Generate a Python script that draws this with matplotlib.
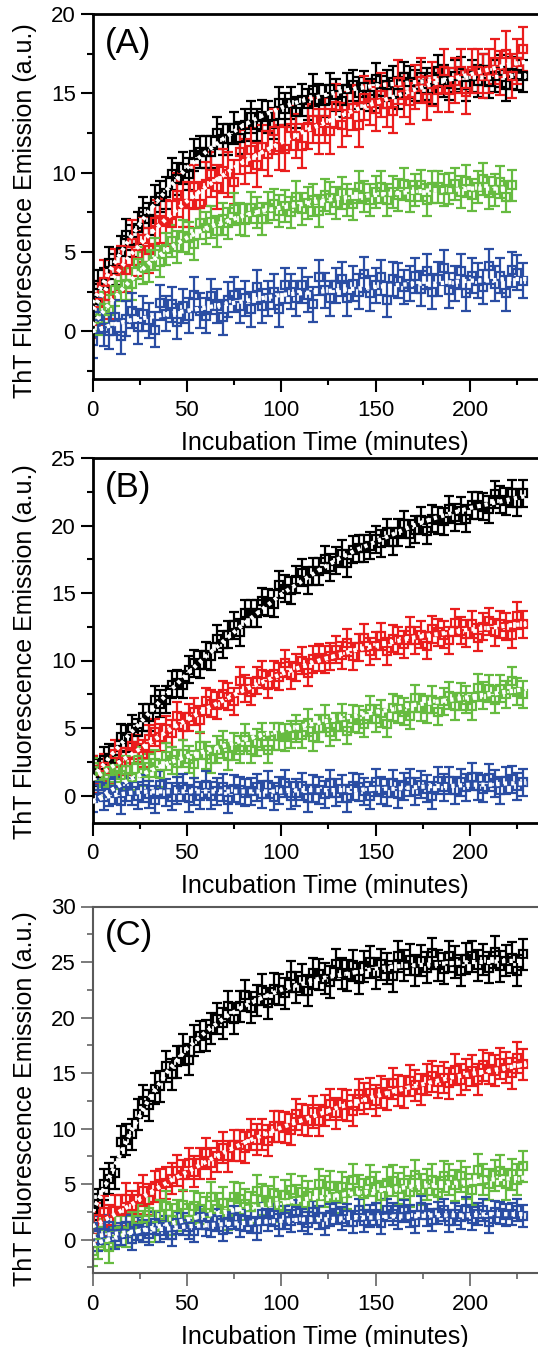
import numpy as np
import matplotlib
matplotlib.use("Agg")
import matplotlib.pyplot as plt
from matplotlib.ticker import MultipleLocator

plt.rcParams['font.family'] = ['Liberation Sans', 'DejaVu Sans']

# sampling grid of the kinetics (minutes) and of the fitted curves
time_min = np.arange(0, 231, 3)
fit_time = np.arange(0, 231, 10)

# ---------------- panel A ----------------
a_black = [2.0, 2.9, 3.0, 4.3, 3.9, 5.0, 6.1, 5.7, 6.5, 7.5, 7.1, 8.2, 8.5, 8.7, 9.9, 9.6, 10.3, 9.9, 11.1, 11.3,
           11.3, 11.3, 12.5, 12.1, 12.1, 12.8, 12.2, 13.0, 13.5, 13.0, 13.6, 13.5, 13.1, 14.4, 14.0, 14.4, 13.8, 14.6, 14.3, 15.2,
           14.6, 14.5, 15.3, 14.9, 14.5, 15.3, 15.5, 15.0, 15.4, 14.9, 15.9, 15.1, 15.5, 15.7, 15.0, 16.0, 15.7, 15.5, 16.0, 15.6,
           15.3, 16.4, 15.8, 15.6, 16.1, 16.3, 15.5, 16.1, 15.8, 16.5, 15.7, 16.1, 16.4, 15.5, 16.3, 16.2, 16.1]
a_red = [1.0, 1.8, 3.1, 2.2, 3.8, 4.0, 3.9, 5.6, 4.9, 5.8, 5.1, 6.9, 7.0, 6.9, 6.8, 8.6, 8.0, 8.0, 9.1, 8.0,
         9.3, 9.9, 9.1, 10.1, 9.9, 9.4, 11.3, 10.7, 11.4, 10.5, 11.6, 11.2, 12.6, 11.6, 11.5, 12.8, 12.3, 11.7, 12.9, 13.3,
         12.6, 13.3, 12.6, 14.2, 13.0, 13.7, 14.1, 13.0, 14.7, 14.4, 14.0, 14.9, 14.3, 13.9, 15.7, 14.9, 14.5, 15.4, 15.8, 14.7,
         15.6, 15.2, 16.4, 15.2, 15.8, 16.4, 15.1, 16.4, 16.4, 16.1, 16.4, 17.0, 16.3, 17.5, 16.1, 17.0, 17.8]
a_green = [1.0, 0.8, 1.5, 1.3, 2.6, 2.9, 3.0, 3.0, 4.3, 4.0, 4.1, 4.9, 4.4, 5.2, 5.7, 5.3, 6.0, 5.9, 5.5, 6.8,
           6.5, 6.9, 6.3, 7.1, 6.8, 7.7, 7.1, 7.0, 7.8, 7.5, 7.1, 7.8, 8.0, 7.6, 7.9, 7.5, 8.5, 7.7, 8.1, 8.3,
           7.6, 8.6, 8.4, 8.1, 8.7, 8.3, 8.0, 9.1, 8.5, 8.3, 8.8, 9.1, 8.3, 8.8, 8.6, 9.3, 8.5, 8.9, 9.2, 8.3,
           9.1, 9.1, 8.9, 9.0, 9.3, 8.8, 9.5, 8.6, 9.1, 9.6, 8.7, 8.9, 9.4, 8.5, 9.2]
a_blue = [-0.6, 1.0, 0.2, 0.0, 0.9, -0.3, 0.8, 1.3, 0.3, 1.1, 0.7, 0.1, 1.8, 1.1, 1.7, 0.6, 1.6, 1.0, 2.3, 1.3,
          1.0, 2.2, 1.6, 0.9, 2.0, 2.3, 1.6, 2.1, 1.4, 2.8, 1.6, 2.1, 2.5, 1.4, 2.9, 2.5, 2.1, 2.9, 2.3, 1.7,
          3.4, 2.6, 2.1, 2.9, 3.3, 2.1, 3.0, 2.5, 3.6, 2.4, 2.9, 3.4, 2.0, 3.3, 3.2, 2.8, 3.0, 3.5, 2.7, 3.8,
          2.5, 3.3, 4.0, 2.6, 3.0, 3.8, 2.4, 3.5, 3.2, 2.8, 4.1, 3.0, 3.5, 2.4, 3.9, 3.7, 3.2]
a_fit_black = [1.8, 4.0, 5.9, 7.6, 9.0, 10.3, 11.3, 12.2, 13.0, 13.6, 14.1, 14.5, 14.8, 15.1, 15.3, 15.5, 15.6, 15.7,
               15.8, 15.9, 16.0, 16.0, 16.1, 16.1]
a_fit_red = [1.4, 3.2, 4.8, 6.1, 7.2, 8.2, 9.1, 9.9, 10.7, 11.3, 11.9, 12.5, 13.0, 13.5, 14.0, 14.4, 14.8, 15.2,
             15.6, 15.9, 16.2, 16.5, 16.8, 17.0]
a_fit_green = [0.4, 1.9, 3.2, 4.3, 5.2, 5.9, 6.5, 6.9, 7.3, 7.6, 7.8, 8.0, 8.2, 8.4, 8.5, 8.6, 8.7, 8.8, 8.9, 8.9,
               9.0, 9.0, 9.0]
a_fit_blue = [0.0, 0.4, 0.7, 0.9, 1.1, 1.3, 1.5, 1.7, 1.9, 2.1, 2.3, 2.4, 2.5, 2.6, 2.7, 2.8, 2.9, 3.0, 3.0, 3.1,
              3.2, 3.2, 3.3, 3.3]

# ---------------- panel B ----------------
b_black = [1.9, 1.7, 2.6, 2.8, 2.7, 4.3, 4.2, 5.0, 4.7, 5.8, 5.8, 7.1, 6.8, 7.1, 8.2, 8.3, 8.2, 9.3, 9.8, 9.7,
           10.4, 10.3, 11.6, 11.2, 11.9, 12.6, 12.1, 13.5, 13.5, 13.5, 14.4, 14.3, 14.2, 15.6, 15.3, 15.2, 16.0, 16.5, 15.9, 16.6,
           16.6, 17.5, 16.9, 17.4, 17.9, 17.2, 18.2, 18.3, 18.3, 18.5, 19.0, 18.7, 19.5, 18.8, 19.5, 20.1, 19.4, 19.7, 20.4, 19.6,
           20.5, 20.4, 20.3, 21.2, 20.6, 21.1, 20.5, 21.5, 21.5, 21.4, 21.2, 22.3, 21.9, 21.8, 22.4, 21.7, 22.4]
b_red = [1.9, 1.2, 2.1, 1.9, 3.1, 2.5, 2.5, 3.7, 3.5, 3.1, 4.2, 4.7, 4.3, 4.9, 4.6, 5.9, 5.1, 5.8, 6.2, 5.6,
         7.0, 6.8, 6.7, 7.5, 7.3, 7.0, 8.5, 7.9, 7.7, 8.5, 9.0, 8.2, 9.0, 8.8, 9.8, 8.9, 9.5, 10.0, 9.1, 10.1,
         10.2, 10.1, 10.3, 10.8, 10.4, 11.3, 10.3, 11.0, 11.7, 10.7, 11.1, 11.8, 10.7, 11.6, 11.5, 11.2, 12.2, 11.5, 11.9, 11.1,
         12.3, 12.1, 11.9, 11.5, 12.8, 12.2, 12.0, 12.7, 11.7, 12.5, 12.9, 12.1, 12.7, 12.5, 11.9, 13.3, 12.7]
b_green = [1.8, 1.4, 0.9, 1.8, 2.0, 1.5, 1.9, 1.4, 2.6, 1.7, 2.1, 2.4, 1.6, 2.9, 2.6, 2.4, 3.1, 2.7, 2.3, 3.7,
           3.0, 2.7, 3.4, 3.8, 2.9, 3.6, 3.4, 4.3, 3.4, 3.9, 4.4, 3.4, 4.4, 4.4, 4.3, 4.5, 5.0, 4.5, 5.4, 4.3,
           5.0, 5.7, 4.7, 5.1, 5.8, 4.8, 5.7, 5.6, 5.3, 6.4, 5.7, 6.1, 5.3, 6.5, 6.4, 6.2, 5.9, 7.2, 6.5, 6.4,
           7.1, 6.2, 7.0, 7.4, 6.6, 7.3, 7.1, 6.6, 8.0, 7.4, 7.9, 7.1, 7.9, 7.5, 8.5, 7.7, 7.5]
b_blue = [-0.2, 0.7, -0.1, 0.2, 0.4, -0.4, 0.6, 0.3, 0.0, 0.5, 0.1, -0.3, 0.8, 0.2, -0.1, 0.4, 0.6, -0.2, 0.3, 0.0,
          0.8, 0.0, 0.3, 0.6, -0.3, 0.5, 0.4, 0.2, 0.3, 0.6, 0.1, 0.8, -0.1, 0.4, 0.9, 0.0, 0.2, 0.7, -0.2, 0.5,
          0.4, 0.1, 0.9, 0.2, 0.5, -0.2, 0.7, 0.6, 0.3, 0.0, 1.0, 0.4, 0.2, 0.9, 0.1, 0.7, 1.0, 0.3, 0.8, 0.5,
          0.0, 1.1, 0.6, 1.1, 0.4, 1.0, 0.6, 1.4, 0.7, 0.5, 1.3, 0.9, 0.4, 1.1, 1.2, 0.7, 1.0]
b_fit_black = [1.3, 3.0, 4.6, 6.1, 7.6, 9.0, 10.3, 11.5, 12.7, 13.8, 14.9, 15.8, 16.7, 17.5, 18.2, 18.8, 19.4, 20.0,
               20.5, 20.9, 21.3, 21.6, 21.9, 22.2]
b_fit_red = [1.2, 2.1, 3.0, 3.9, 4.8, 5.6, 6.4, 7.1, 7.8, 8.4, 9.0, 9.5, 10.0, 10.4, 10.8, 11.1, 11.4, 11.7,
             11.9, 12.1, 12.3, 12.4, 12.6, 12.7]
b_fit_green = [-0.5, 0.4, 1.2, 1.8, 2.4, 2.9, 3.3, 3.7, 4.1, 4.5, 4.8, 5.1, 5.4, 5.7, 5.9, 6.2, 6.4, 6.7,
               6.9, 7.1, 7.3, 7.5, 7.7, 7.9]
b_fit_blue = [-0.4, 0.0, 0.2, 0.3, 0.3, 0.3, 0.3, 0.3, 0.3, 0.3, 0.3, 0.4, 0.4, 0.4, 0.4, 0.5, 0.5, 0.6,
              0.7, 0.7, 0.8, 0.8, 0.9, 0.9]

# ---------------- panel C ----------------
c_black = [2.7, 3.2, 5.0, 5.5, 6.0, 8.8, 9.0, 9.5, 11.3, 12.5, 12.1, 13.6, 13.8, 15.6, 14.9, 16.0, 17.1, 16.2, 17.9, 18.3,
           18.4, 19.0, 19.9, 19.5, 21.0, 19.9, 21.0, 22.0, 20.9, 21.5, 22.5, 21.3, 22.6, 22.5, 22.2, 23.7, 22.7, 23.4, 22.4, 24.0,
           23.9, 23.5, 23.2, 24.8, 24.0, 23.8, 24.7, 23.5, 24.6, 25.0, 24.0, 24.8, 24.4, 23.7, 25.5, 24.7, 25.2, 24.2, 25.1, 24.5,
           25.8, 24.7, 24.4, 25.5, 25.0, 24.2, 25.3, 25.5, 24.7, 25.2, 24.5, 25.9, 24.6, 25.1, 25.4, 24.2, 25.7]
c_red = [1.1, 1.9, 2.5, 1.7, 2.6, 2.6, 3.7, 3.0, 3.7, 4.4, 3.6, 4.8, 5.0, 5.1, 5.5, 6.2, 5.8, 6.9, 6.1, 6.9,
         7.8, 6.9, 7.5, 8.3, 7.5, 8.5, 8.5, 8.3, 9.5, 9.0, 9.5, 8.9, 10.2, 10.2, 10.1, 9.9, 11.3, 10.8, 10.7, 11.5,
         10.7, 11.6, 12.2, 11.4, 12.2, 12.1, 11.6, 13.1, 12.7, 13.2, 12.5, 13.3, 13.1, 14.1, 13.4, 13.3, 14.3, 13.9, 13.5, 14.4,
         14.7, 14.2, 14.6, 14.1, 15.3, 14.4, 14.9, 15.2, 14.4, 15.7, 15.4, 15.2, 15.9, 15.5, 15.0, 16.4, 15.8]
c_green = [-1.0, -0.3, 0.5, -0.7, 0.7, 0.8, 0.7, 1.1, 1.8, 1.2, 2.5, 1.2, 2.2, 3.0, 1.8, 2.2, 3.1, 1.8, 3.0, 2.8,
           2.4, 3.8, 2.8, 3.3, 2.3, 3.8, 3.7, 3.2, 2.9, 4.4, 3.6, 3.4, 4.2, 3.0, 4.0, 4.5, 3.5, 4.3, 3.9, 3.2,
           5.0, 4.3, 4.8, 3.8, 4.7, 4.2, 5.4, 4.4, 4.1, 5.3, 4.7, 3.9, 5.1, 5.3, 4.6, 5.1, 4.3, 5.8, 4.5, 5.0,
           5.4, 4.2, 5.7, 5.4, 4.9, 5.7, 5.1, 4.5, 6.3, 5.4, 5.0, 5.8, 6.2, 5.0, 5.9, 5.4, 6.6]
c_blue = [1.1, 0.0, 0.6, 1.2, 0.2, 0.5, 1.2, 0.1, 1.0, 0.8, 0.5, 1.5, 0.8, 1.1, 0.4, 1.5, 1.4, 1.1, 0.8, 2.0,
          1.3, 1.2, 1.8, 0.9, 1.6, 2.0, 1.2, 1.8, 1.6, 1.0, 2.3, 1.8, 2.2, 1.3, 2.0, 1.7, 2.6, 1.8, 1.5, 2.5,
          2.0, 1.4, 2.2, 2.4, 1.9, 2.2, 1.6, 2.7, 1.7, 2.1, 2.3, 1.5, 2.7, 2.3, 2.0, 2.6, 2.1, 1.6, 2.9, 2.2,
          1.8, 2.4, 2.7, 1.7, 2.3, 2.0, 2.8, 1.9, 2.3, 2.7, 1.6, 2.5, 2.4, 2.2, 2.3, 2.7, 2.1]
c_fit_black = [2.5, 6.0, 9.6, 12.7, 15.2, 17.2, 18.7, 20.0, 21.0, 21.8, 22.5, 23.0, 23.5, 23.8, 24.1, 24.4, 24.6, 24.7,
               24.8, 24.9, 25.0, 25.0, 25.1, 25.1]
c_fit_red = [1.2, 2.1, 3.1, 4.2, 5.2, 6.1, 7.0, 7.9, 8.7, 9.4, 10.1, 10.7, 11.3, 11.9, 12.4, 12.9, 13.4, 13.8,
             14.2, 14.6, 14.9, 15.2, 15.5, 15.8]
c_fit_green = [-0.4, 0.1, 0.6, 1.0, 1.4, 1.8, 2.2, 2.5, 2.8, 3.1, 3.3, 3.6, 3.8, 4.0, 4.2, 4.4, 4.6, 4.8,
               4.9, 5.1, 5.2, 5.4, 5.5, 5.6]
c_fit_blue = [0.3, 0.5, 0.7, 0.9, 1.0, 1.2, 1.3, 1.4, 1.5, 1.6, 1.7, 1.8, 1.8, 1.9, 2.0, 2.0, 2.1, 2.1,
              2.2, 2.2, 2.2, 2.3, 2.3, 2.3]

# error bar half-widths (a.u.) per series: black, red, green, blue
a_err = [1.0, 1.4, 1.0, 1.1]
b_err = [1.0, 1.0, 1.0, 1.0]
c_err = [1.4, 1.4, 1.4, 1.0]

colors = ['#000000', '#ea1d1d', '#66bb40', '#2a4da3']

panels = [
    dict(label='(A)', data=[a_black, a_red, a_green, a_blue], fits=[a_fit_black, a_fit_red, a_fit_green, a_fit_blue],
         err=a_err, ylim=(-3, 20), box=(14, 379), spine='black', lw=2.0, ylab_y=0.46),
    dict(label='(B)', data=[b_black, b_red, b_green, b_blue], fits=[b_fit_black, b_fit_red, b_fit_green, b_fit_blue],
         err=b_err, ylim=(-2, 25), box=(458, 822.5), spine='black', lw=2.0, ylab_y=0.47),
    dict(label='(C)', data=[c_black, c_red, c_green, c_blue], fits=[c_fit_black, c_fit_red, c_fit_green, c_fit_blue],
         err=c_err, ylim=(-3, 30), box=(906.5, 1273), spine='#5a5a5a', lw=1.5, ylab_y=0.475),
]

W, H = 538, 1347
fig = plt.figure(figsize=(W / 100, H / 100), dpi=100)
left_px = 92.5

for p in panels:
    top_px, bot_px = p['box']
    ax = fig.add_axes([left_px / W, 1 - bot_px / H, 1 - left_px / W, (bot_px - top_px) / H])

    for vals, e, c in zip(p['data'], p['err'], colors):
        t = time_min[:len(vals)]
        ax.errorbar(t, vals, yerr=e, fmt='s', color=c, ecolor=c, mfc='none', mec=c,
                    ms=5.5, mew=1.6, elinewidth=1.6, capsize=3.6, capthick=1.6)
    for f in p['fits']:
        ax.plot(fit_time[:len(f)], f, color='white', lw=3.0, ls=(0, (0.8, 1.0)), zorder=5)

    ax.set_xlim(0, 236)
    ax.set_ylim(*p['ylim'])
    ax.xaxis.set_major_locator(MultipleLocator(50))
    ax.xaxis.set_minor_locator(MultipleLocator(25))
    ax.yaxis.set_major_locator(MultipleLocator(5))
    ax.yaxis.set_minor_locator(MultipleLocator(2.5))

    ax.spines['right'].set_visible(False)
    for s in ['left', 'top', 'bottom']:
        ax.spines[s].set_color(p['spine'])
        ax.spines[s].set_linewidth(p['lw'])
    ax.tick_params(which='both', direction='out', color=p['spine'], width=p['lw'] * 0.75, labelsize=16)
    ax.tick_params(which='major', length=9)
    ax.tick_params(which='minor', length=4.5)
    ax.tick_params(axis='x', which='major', pad=6)
    ax.tick_params(axis='y', which='major', pad=3)

    ax.set_xlabel('Incubation Time (minutes)', fontsize=18)
    ax.xaxis.set_label_coords(0.522, -0.142)
    ax.set_ylabel('ThT Fluorescence Emission (a.u.)', fontsize=18)
    ax.yaxis.set_label_coords(-0.125, p['ylab_y'])

    ax.text(0.028, 0.965, p['label'], transform=ax.transAxes, fontsize=25, va='top', ha='left')

fig.savefig('out.png', dpi=100)
